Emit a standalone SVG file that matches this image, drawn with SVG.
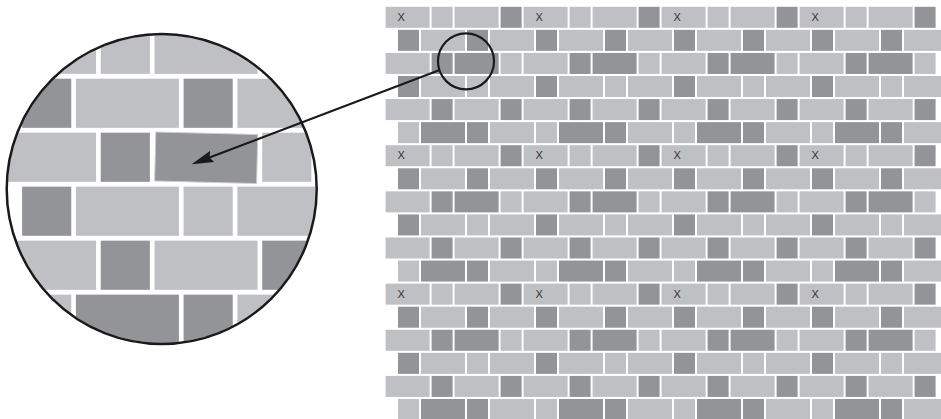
<svg xmlns="http://www.w3.org/2000/svg" xmlns:xlink="http://www.w3.org/1999/xlink" width="941" height="419" viewBox="0 0 941 419">
<style>
.l{fill:#bfc0c4}
.d{fill:#939498}
.x{font-family:"Liberation Sans",Arial,sans-serif;font-size:11px;fill:#333}
.ring{fill:none;stroke:#1a1a1a}
.conn{fill:none;stroke:#1a1a1a;stroke-width:2.2}
</style>
<defs>
<g id="block">
<rect class="l" x="0" y="0" width="44" height="21"/>
<rect class="l" x="46" y="0" width="21" height="21"/>
<rect class="l" x="69" y="0" width="44" height="21"/>
<rect class="d" x="115" y="0" width="21" height="21"/>
<text class="x" x="12" y="13.9">X</text>
<rect class="d" x="12.4" y="23.07" width="21" height="21"/>
<rect class="l" x="35.4" y="23.07" width="44" height="21"/>
<rect class="d" x="81.4" y="23.07" width="21" height="21"/>
<rect class="l" x="104.4" y="23.07" width="44" height="21"/>
<rect class="l" x="0" y="46.14" width="44" height="21"/>
<rect class="d" x="46" y="46.14" width="21" height="21"/>
<rect class="d" x="69" y="46.14" width="44" height="21"/>
<rect class="l" x="115" y="46.14" width="21" height="21"/>
<rect class="d" x="12.4" y="69.21" width="21" height="21"/>
<rect class="l" x="35.4" y="69.21" width="44" height="21"/>
<rect class="l" x="81.4" y="69.21" width="21" height="21"/>
<rect class="l" x="104.4" y="69.21" width="44" height="21"/>
<rect class="l" x="0" y="92.28" width="44" height="21"/>
<rect class="d" x="46" y="92.28" width="21" height="21"/>
<rect class="l" x="69" y="92.28" width="44" height="21"/>
<rect class="d" x="115" y="92.28" width="21" height="21"/>
<rect class="l" x="12.4" y="115.35" width="21" height="21"/>
<rect class="d" x="35.4" y="115.35" width="44" height="21"/>
<rect class="d" x="81.4" y="115.35" width="21" height="21"/>
<rect class="l" x="104.4" y="115.35" width="44" height="21"/>
</g>
<g id="bricks">
<use xlink:href="#block" href="#block" transform="translate(385.6 6.8)"/>
<use xlink:href="#block" href="#block" transform="translate(523.6 6.8)"/>
<use xlink:href="#block" href="#block" transform="translate(661.6 6.8)"/>
<use xlink:href="#block" href="#block" transform="translate(799.6 6.8)"/>
<use xlink:href="#block" href="#block" transform="translate(385.6 145.22)"/>
<use xlink:href="#block" href="#block" transform="translate(523.6 145.22)"/>
<use xlink:href="#block" href="#block" transform="translate(661.6 145.22)"/>
<use xlink:href="#block" href="#block" transform="translate(799.6 145.22)"/>
<use xlink:href="#block" href="#block" transform="translate(385.6 283.64)"/>
<use xlink:href="#block" href="#block" transform="translate(523.6 283.64)"/>
<use xlink:href="#block" href="#block" transform="translate(661.6 283.64)"/>
<use xlink:href="#block" href="#block" transform="translate(799.6 283.64)"/>
</g>
<clipPath id="bigclip"><circle cx="161.7" cy="189" r="154"/></clipPath>
<marker id="arrow" markerUnits="userSpaceOnUse" markerWidth="22" markerHeight="12" viewBox="0 0 22 12" refX="10" refY="6" orient="auto">
<path d="M0,0 L22,6 L0,12 L3,6 Z" fill="#1a1a1a"/>
</marker>
</defs>
<rect width="941" height="419" fill="#fff"/>
<g id="wall">
<use xlink:href="#bricks" href="#bricks"/>
</g>
<g id="small-lens">
<circle class="ring" cx="466" cy="61.3" r="28" stroke-width="2.2"/>
</g>
<g id="big-lens">
<g clip-path="url(#bigclip)">
<use xlink:href="#bricks" href="#bricks" transform="matrix(2.34 0 0 2.34 -909.2 8.8)"/>
<rect x="152" y="130.5" width="108" height="53.5" fill="#fff"/>
<rect class="d" x="-51" y="-24.5" width="102" height="49" transform="translate(206.2 157.8) rotate(1.35)" stroke="#cdced1" stroke-width="1"/>
</g>
<circle class="ring" cx="161.7" cy="189" r="155" stroke-width="2.5"/>
</g>
<g id="connectors">
<line class="conn" x1="439" y1="70.2" x2="202.9" y2="160" marker-end="url(#arrow)"/>
</g>
</svg>
